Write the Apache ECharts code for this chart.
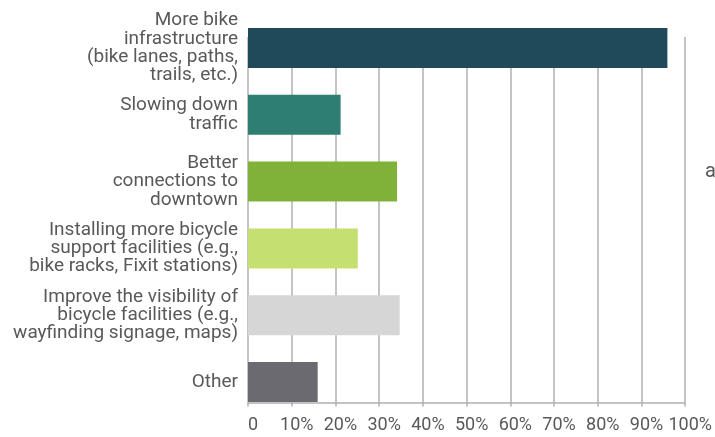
<!DOCTYPE html>
<html>
<head>
<meta charset="utf-8">
<script src="https://cdn.jsdelivr.net/npm/echarts@6/dist/echarts.min.js"></script>
<style>
  html, body { margin: 0; padding: 0; background: #fff; }
  #main { width: 715px; height: 437px; }
</style>
</head>
<body>
<div id="main"></div>
<script>
  // categories (top to bottom) and share of responses, in %
  var categories = [
    'More bike\ninfrastructure\n(bike lanes, paths,\ntrails, etc.)',
    'Slowing down\ntraffic',
    'Better\nconnections to\ndowntown',
    'Installing more bicycle\nsupport facilities (e.g.,\nbike racks, Fixit stations)',
    'Improve the visibility of\nbicycle facilities (e.g.,\nwayfinding signage, maps)',
    'Other'
  ];
  var values = [95.1, 21.0, 33.8, 24.9, 34.4, 15.8];
  var barColors = ['#1f4a5a', '#2e7e74', '#80b23a', '#c6df71', '#d6d6d6', '#6b6a70'];

  var font = "Roboto, 'Noto Sans', sans-serif";
  var textColor = '#595959';
  var lineColor = '#b0b0b0';

  var chart = echarts.init(document.getElementById('main'));
  chart.setOption({
    animation: false,
    grid: [
      // bars
      { left: 248, right: 26, top: 14.6, height: 400.8 },
      // gridlines + x axis
      { left: 248, right: 26, top: 37, bottom: 34.5 }
    ],
    xAxis: [
      { gridIndex: 0, type: 'value', min: 0, max: 100, show: false },
      {
        gridIndex: 1, type: 'value', min: 0, max: 100, interval: 10,
        axisLine: { show: true, lineStyle: { color: lineColor, width: 1.5 } },
        axisTick: { show: true, length: 4, lineStyle: { color: lineColor, width: 1.5 } },
        splitLine: { show: true, lineStyle: { color: lineColor, width: 1.5 } },
        axisLabel: {
          margin: 14, color: textColor, fontFamily: font, fontSize: 18,
          padding: [0, 0, 0, 10],
          formatter: function (v) { return v === 0 ? '0' : v + '%'; }
        }
      }
    ],
    yAxis: [
      {
        gridIndex: 0, type: 'category', inverse: true, data: categories,
        axisLine: { show: false }, axisTick: { show: false },
        axisLabel: {
          margin: 10, color: textColor, fontFamily: font, fontSize: 19,
          lineHeight: 18.3, align: 'right', padding: [4, 0, 0, 0]
        }
      },
      { gridIndex: 1, type: 'value', show: false }
    ],
    series: [{
      type: 'bar',
      xAxisIndex: 0, yAxisIndex: 0,
      barWidth: 40,
      z: 5,
      data: values.map(function (v, i) {
        return { value: v, itemStyle: { color: barColors[i] } };
      })
    }],
    graphic: [
      { type: 'text', left: 705, top: 162,
        style: { text: 'a', fill: textColor, font: '20px ' + font } }
    ]
  });
</script>
</body>
</html>
